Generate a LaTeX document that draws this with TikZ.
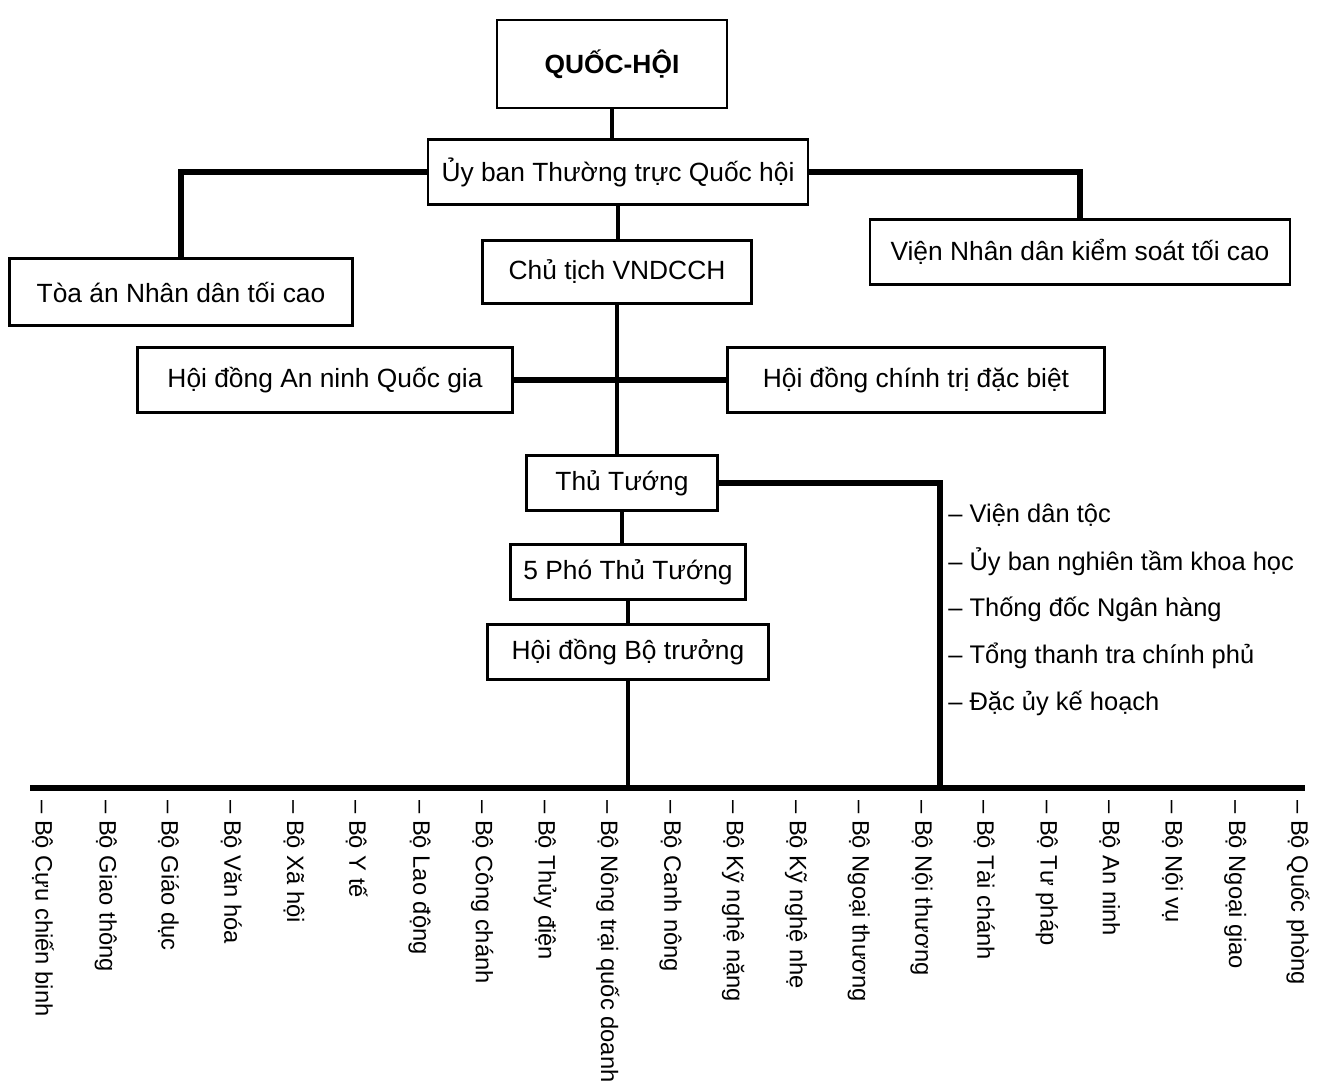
\documentclass[tikz,border=0pt]{standalone}
\usepackage{fontspec}
\setmainfont{Liberation Sans}
\tikzset{every picture/.style={x=0.02cm, y=-0.02cm}}
\tikzset{box/.style 2 args={draw, line width=1.4pt, minimum width=#1, minimum height=#2, inner sep=2pt, font=\fontsize{15}{18}\selectfont}}
\tikzset{link/.style={line width=2.3pt}, heavy/.style={line width=3.8pt}, bar/.style={line width=3.6pt}}
\tikzset{item/.style={anchor=west, inner sep=0pt, font=\fontsize{14.5}{17}\selectfont}}
\tikzset{bo/.style={rotate=-90, anchor=west, inner sep=0pt, font=\fontsize{13.5}{16}\selectfont}}

\begin{document}
\begin{tikzpicture}
\useasboundingbox (0,0) rectangle (1320,1086);
\node[box={4.6cm}{1.76cm}, font=\fontsize{15}{18}\selectfont\bfseries] (qh) at (612,64) {QUỐC-HỘI};
\node[box={7.6cm}{1.3cm}] (ubtv) at (618,172) {Ủy ban Thường trực Quốc hội};
\node[box={6.86cm}{1.34cm}] (toa) at (181,292) {Tòa án Nhân dân tối cao};
\node[box={5.38cm}{1.26cm}] (ct) at (617,272) {Chủ tịch VNDCCH};
\node[box={8.4cm}{1.3cm}] (vien) at (1080,252) {Viện Nhân dân kiểm soát tối cao};
\node[box={7.5cm}{1.3cm}] (anninh) at (325,380) {Hội đồng An ninh Quốc gia};
\node[box={7.54cm}{1.3cm}] (chinhtri) at (916,380) {Hội đồng chính trị đặc biệt};
\node[box={3.82cm}{1.1cm}] (tt) at (622,483) {Thủ Tướng};
\node[box={4.7cm}{1.1cm}] (pho) at (628,572) {5 Phó Thủ Tướng};
\node[box={5.62cm}{1.1cm}] (hdbt) at (628,652) {Hội đồng Bộ trưởng};

\coordinate (barL) at (30,788);
\coordinate (barR) at (1305,788);
\coordinate (j1) at (hdbt.south |- barL);
\coordinate (j2) at (940,788);

\draw[link] (qh.south) -- (qh.south |- ubtv.north);
\draw[heavy] (ubtv.west) -| (toa.north);
\draw[heavy] (ubtv.east) -| (vien.north);
\draw[link] (ubtv.south) -- (ubtv.south |- ct.north);
\draw[link] (ct.south) -- (ct.south |- tt.north);
\draw[heavy] (anninh.east) -- (chinhtri.west);
\draw[link] (tt.south) -- (tt.south |- pho.north);
\draw[link] (pho.south) -- (pho.south |- hdbt.north);
\draw[link] (hdbt.south) -- (j1);
\draw[heavy] (tt.east) -| (j2);
\draw[bar] (barL) -- (barR);

\foreach \t [count=\i] in {Viện dân tộc, Ủy ban nghiên tầm khoa học, Thống đốc Ngân hàng, Tổng thanh tra chính phủ, Đặc ủy kế hoạch} {
    \node[item] (k\i) at (948, {515+47*(\i-1)}) {– \t};
}
\foreach \t [count=\i] in {Bộ Cựu chiến binh, Bộ Giao thông, Bộ Giáo dục, Bộ Văn hóa, Bộ Xã hội, Bộ Y tế, Bộ Lao động, Bộ Công chánh, Bộ Thủy điện, Bộ Nông trại quốc doanh, Bộ Canh nông, Bộ Kỹ nghệ nặng, Bộ Kỹ nghệ nhẹ, Bộ Ngoại thương, Bộ Nội thương, Bộ Tài chánh, Bộ Tư pháp, Bộ An ninh, Bộ Nội vụ, Bộ Ngoại giao, Bộ Quốc phòng} {
    \node[bo] (b\i) at ({43+62.75*(\i-1)}, 800) {– \t};
}
\end{tikzpicture}
\end{document}
